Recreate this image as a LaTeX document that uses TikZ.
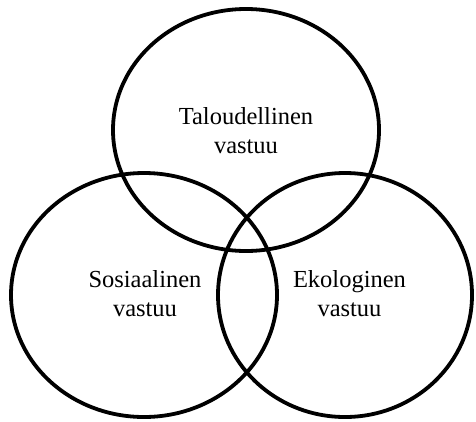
\documentclass[tikz,border=0pt]{standalone}
\usepackage{fontspec}
\setmainfont{Liberation Serif}
\usetikzlibrary{shapes.geometric}
\begin{document}
\begin{tikzpicture}[x=1pt,y=-1pt,
  ring/.style={ellipse, draw=black, line width=3.8pt, inner sep=0pt, fill=none},
  label/.style={align=center, font=\fontsize{24.5}{29}\selectfont, inner sep=0pt}]
\useasboundingbox[fill=white] (0,0) rectangle (476,421);
\node[ring, minimum width=266pt, minimum height=242pt] (top) at (246,130) {};
\node[ring, minimum width=266pt, minimum height=244pt] (left) at (144,295) {};
\node[ring, minimum width=254pt, minimum height=244pt] (right) at (345,295) {};
\node[label] (tl) at (246,131) {Taloudellinen\\vastuu};
\node[label] (sl) at (145,294) {Sosiaalinen\\vastuu};
\node[label] (el) at (349.5,294) {Ekologinen\\vastuu};
\end{tikzpicture}
\end{document}
